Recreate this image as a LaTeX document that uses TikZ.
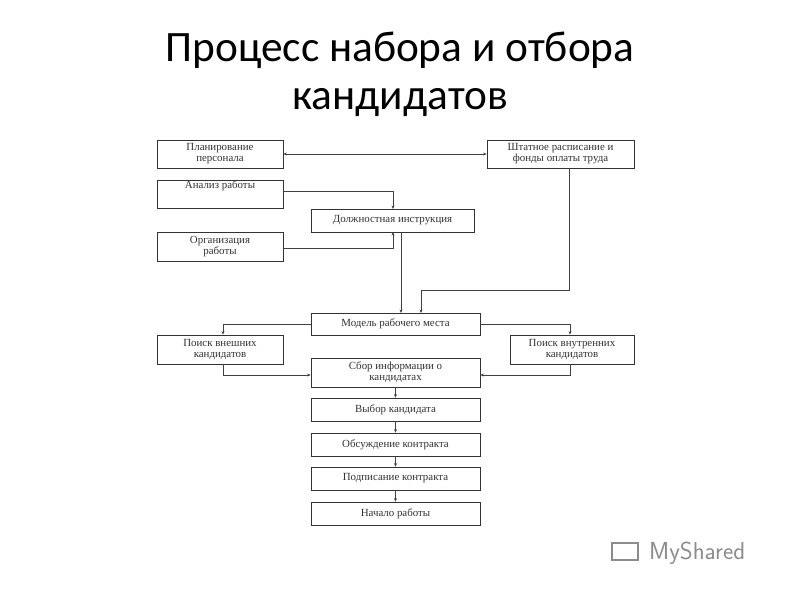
\documentclass[tikz,border=0pt]{standalone}
\usepackage{fontspec}
\setmainfont{Liberation Serif}
\newfontfamily\titlefont{Carlito}
\usetikzlibrary{arrows.meta}
\begin{document}
\begin{tikzpicture}[x=0.3mm,y=-0.3mm,
  bx/.style={draw=black!80,line width=0.6pt,inner sep=0pt,font=\fontsize{9.3}{9.5}\selectfont,align=center,text=black!80},
  ar/.style={draw=black!75,line width=0.5pt,-{Stealth[length=3pt,width=2.5pt]}}]
\useasboundingbox (0,0) rectangle (800,600);
\fill[white] (0,0) rectangle (800,600);
\node[font=\titlefont\fontsize{37}{41}\selectfont,align=center] (title) at (400,74) {Процесс набора и отбора\\кандидатов};
\newcommand\bx[6]{\node[bx,minimum width={(#4-#2)*0.3mm},minimum height={(#5-#3)*0.3mm}] (#1) at ({(#2+#4)/2},{(#3+#5)/2}) {#6};}
\bx{plan}{157}{140}{283}{168}{Планирование\\персонала}
\bx{sht}{487}{140}{634}{168}{Штатное расписание и\\фонды оплаты труда}
\bx{an}{157}{180}{283}{208}{Анализ работы\\[6pt]\mbox{}}
\bx{dol}{311}{209}{474}{232}{Должностная инструкция}
\bx{org}{157}{232}{283}{261}{Организация\\работы}
\bx{mod}{311}{313}{480}{335}{Модель рабочего места}
\bx{pv}{157}{335}{283}{364}{Поиск внешних\\кандидатов}
\bx{pi}{510}{335}{634}{364}{Поиск внутренних\\кандидатов}
\bx{sb}{311}{358}{480}{387}{Сбор информации о\\кандидатах}
\bx{vy}{311}{398}{480}{421}{Выбор кандидата}
\bx{ob}{311}{433}{480}{456}{Обсуждение контракта}
\bx{po}{311}{467}{480}{490}{Подписание контракта}
\bx{na}{311}{502}{480}{525}{Начало работы}
\draw[ar,{Stealth[length=3pt,width=2.5pt]}-{Stealth[length=3pt,width=2.5pt]}] (plan.east) -- (sht.west);
\draw[ar] (an.east |- 0,191) -| (393,209);
\draw[ar] (org.east |- 0,248) -| (393,232);
\draw[ar] (401,232) -- (401,313);
\draw[ar] (569,168) |- (421,290) -- (421,313);
\draw[ar] (mod.west) -| (pv.north -| 223,0);
\draw[ar] (mod.east) -| (pi.north -| 570,0);
\draw[ar] (223,364) |- (sb.west |- 0,375);
\draw[ar] (570,364) |- (sb.east |- 0,375);
\draw[ar] (sb) -- (vy);
\draw[ar] (vy) -- (ob);
\draw[ar] (ob) -- (po);
\draw[ar] (po) -- (na);
\node[font=\sffamily\fontsize{21}{22}\selectfont,text=black!45,anchor=west] (logo) at (645,553) {MyShared};
\draw[black!45,line width=1.2pt] (612,543) rectangle (638,560);
\end{tikzpicture}
\end{document}
